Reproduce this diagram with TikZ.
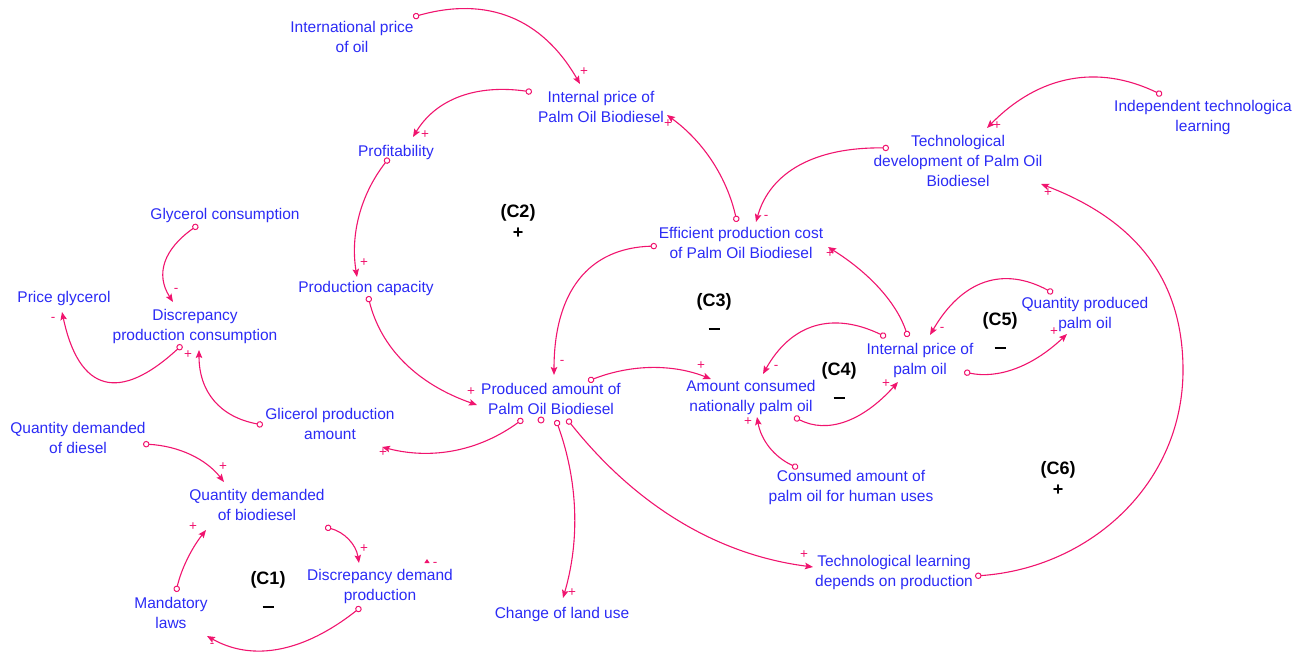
\documentclass[tikz,border=0pt]{standalone}
\usepackage{fontspec}
\setmainfont{Liberation Sans}
\definecolor{VenBlue}{HTML}{2B2BF5}
\definecolor{VenPink}{HTML}{F0146E}
\usetikzlibrary{arrows.meta}

\begin{document}
\begin{tikzpicture}[x=1pt, y=-1pt,
    var/.style={text=VenBlue, font=\fontsize{15.5}{20}\selectfont,
                align=center, inner sep=1pt},
    loop/.style={font=\fontsize{18}{21}\selectfont\bfseries,
                 align=center, inner sep=0pt},
    link/.style={VenPink, line width=1.1pt,
                 {Circle[open, length=6.5pt, line width=1pt]}-{Stealth[length=8pt, width=6.5pt, inset=1.5pt]}},
    pol/.style={text=VenPink, font=\fontsize{13.5}{13.5}\selectfont, inner sep=0pt}]
  \useasboundingbox (0,0) rectangle (1305,652);

  % Variables
  \node[var] (intoil)    at (352,37)  {International price\\of oil};
  \node[var] (ipbio)     at (601,107) {Internal price of\\Palm Oil Biodiesel};
  \node[var] (profit)    at (396,152) {Profitability};
  \node[var] (glyccons)  at (225,215) {Glycerol consumption};
  \node[var] (prodcap)   at (366,288) {Production capacity};
  \node[var] (priceglyc) at (64,298)  {Price glycerol};
  \node[var] (discpc)    at (195,326) {Discrepancy\\production consumption};
  \node[var] (glicprod)  at (330,424) {Glicerol production\\amount};
  \node[var] (prodbio)   at (551,399) {Produced amount of\\Palm Oil Biodiesel};
  \node[var] (qdiesel)   at (78,438)  {Quantity demanded\\of diesel};
  \node[var] (qbio)      at (257,505) {Quantity demanded\\of biodiesel};
  \node[var] (mandlaws)  at (171,613) {Mandatory\\laws};
  \node[var] (discdp)    at (380,586) {Discrepancy demand\\production};
  \node[var] (landuse)   at (562,614) {Change of land use};
  \node[var] (effcost)   at (741,243) {Efficient production cost\\of Palm Oil Biodiesel};
  \node[var] (techdev)   at (958,161) {Technological\\development of Palm Oil\\Biodiesel};
  \node[var] (indtech)   at (1203,117) {Independent technologica\\learning};
  \node[var] (qpalm)     at (1085,314) {Quantity produced\\palm oil};
  \node[var] (ippalm)    at (920,360) {Internal price of\\palm oil};
  \node[var] (amtcons)   at (751,397) {Amount consumed\\nationally palm oil};
  \node[var] (humuse)    at (851,487) {Consumed amount of\\palm oil for human uses};
  \node[var] (techlearn) at (894,572) {Technological learning\\depends on production};

  % Loop labels
  \node[loop] (c1) at (268,590)  {(C1)\\\rule[-2.5pt]{11pt}{2pt}};
  \node[loop] (c2) at (518,221)  {(C2)\\+};
  \node[loop] (c3) at (714,312)  {(C3)\\\rule[-2.5pt]{11pt}{2pt}};
  \node[loop] (c4) at (839,381)  {(C4)\\\rule[-2.5pt]{11pt}{2pt}};
  \node[loop] (c5) at (1000,331) {(C5)\\\rule[-2.5pt]{11pt}{2pt}};
  \node[loop] (c6) at (1058,478) {(C6)\\+};

  % Price and cost links
  \draw[link] ([shift={(61,-20)}]intoil.center) .. controls +(74,-21) and +(-38,-66) .. ([shift={(-21,-23)}]ipbio.center) node[pol, shift={(4,-12)}] {+};
  \draw[link] ([shift={(-69,-15)}]ipbio.center) .. controls +(-56,-8) and +(23,-38) .. ([shift={(17,-15)}]profit.center) node[pol, shift={(12,-2)}] {+};
  \draw[link] ([shift={(-4,-21)}]effcost.center) .. controls +(-10,-44) and +(37,27) .. ([shift={(66,8)}]ipbio.center) node[pol, shift={(1,9)}] {+};
  \draw[link] ([shift={(-69,-13)}]techdev.center) .. controls +(-74,-1) and +(14,-50) .. ([shift={(15,-21)}]effcost.center) node[pol, shift={(10,-5)}] {-};
  \draw[link] ([shift={(-41,-22)}]indtech.center) .. controls +(-64,-31) and +(52,-53) .. ([shift={(29,-33)}]techdev.center) node[pol, shift={(10,-2)}] {+};
  \coordinate (c6bend) at (1183,370);
  \draw[link] ([shift={(81,4)}]techlearn.center) .. controls +(115,-8) and +(0,114) .. (c6bend) .. controls +(0,-100) and +(84,32) .. ([shift={(83,23)}]techdev.center) node[pol, shift={(7,9)}] {+};

  % Production links
  \draw[link] ([shift={(-7,6)}]profit.center) .. controls +(-28,36) and +(-7,-43) .. ([shift={(-9,-11)}]prodcap.center) node[pol, shift={(7,-14)}] {+};
  \draw[link] ([shift={(2,8)}]prodcap.center) .. controls +(13,52) and +(-60,-21) .. ([shift={(-74,6)}]prodbio.center) node[pol, shift={(-6,-13)}] {+};
  \draw[link] ([shift={(-84,3)}]effcost.center) .. controls +(-68,2) and +(0,-84) .. ([shift={(3,-24)}]prodbio.center) node[pol, shift={(8,-13)}] {-};
  \draw[link] ([shift={(-12,-23)}]ippalm.center) .. controls +(-11,-33) and +(43,27) .. ([shift={(87,4)}]effcost.center) node[pol, shift={(2,7)}] {+};
  \draw[link] ([shift={(37,-18)}]prodbio.center) .. controls +(44,-17) and +(-38,-15) .. ([shift={(-40,-18)}]amtcons.center) node[pol, shift={(-10,-13)}] {+};
  \draw[link] ([shift={(-34,-23)}]ippalm.center) .. controls +(-54,-26) and +(28,-50) .. ([shift={(12,-23)}]amtcons.center) node[pol, shift={(13,-7)}] {-};
  \draw[link] ([shift={(43,20)}]amtcons.center) .. controls +(33,17) and +(-36,40) .. ([shift={(-22,22)}]ippalm.center) node[pol, shift={(-12,2)}] {+};
  \draw[link] ([shift={(-53,-19)}]humuse.center) .. controls +(-24,-11) and +(4,23) .. ([shift={(6,20)}]amtcons.center) node[pol, shift={(-9,5)}] {+};
  \draw[link] ([shift={(-32,-21)}]qpalm.center) .. controls +(-50,-27) and +(32,-55) .. ([shift={(10,-25)}]ippalm.center) node[pol, shift={(12,-6)}] {-};
  \draw[link] ([shift={(44,12)}]ippalm.center) .. controls +(34,7) and +(-35,33) .. ([shift={(-18,20)}]qpalm.center) node[pol, shift={(-13,-2)}] {+};
  \draw[link] ([shift={(-28,20)}]prodbio.center) .. controls +(-44,32) and +(50,13) .. ([shift={(52,23)}]glicprod.center) node[pol, shift={(1,6)}] {+};
  \draw[link] ([shift={(5,21)}]prodbio.center) .. controls +(22,61) and +(17,-58) .. ([shift={(1,-16)}]landuse.center) node[pol, shift={(9,-5)}] {+};
  \draw[link] ([shift={(16,20)}]prodbio.center) .. controls +(69,87) and +(-95,-12) .. ([shift={(-81,-5)}]techlearn.center) node[pol, shift={(-9,-12)}] {+};

  % Glycerol links
  \draw[link] ([shift={(-27,10)}]glyccons.center) .. controls +(-34,24) and +(-18,-28) .. ([shift={(-22,-24)}]discpc.center) node[pol, shift={(3,-12)}] {-};
  \draw[link] ([shift={(-13,19)}]discpc.center) .. controls +(-63,58) and +(17,80) .. ([shift={(-2,14)}]priceglyc.center) node[pol, shift={(-9,7)}] {-};
  \draw[link] ([shift={(-67,1)}]glicprod.center) .. controls +(-43,-8) and +(0,42) .. ([shift={(4,24)}]discpc.center) node[pol, shift={(-11,5)}] {+};

  % Demand links
  \draw[link] ([shift={(65,6)}]qdiesel.center) .. controls +(36,2) and +(-18,-23) .. ([shift={(-33,-23)}]qbio.center) node[pol, shift={(-1,-15)}] {+};
  \draw[link] ([shift={(68,22)}]qbio.center) .. controls +(19,5) and +(-3,-19) .. ([shift={(-21,-23)}]discdp.center) node[pol, shift={(5,-14)}] {+};
  \draw[link] ([shift={(-19,21)}]discdp.center) .. controls +(-57,45) and +(46,26) .. ([shift={(36,23)}]mandlaws.center) node[pol, shift={(5,9)}] {-};
  \draw[link] ([shift={(5,-21)}]mandlaws.center) .. controls +(5,-22) and +(-15,19) .. ([shift={(-51,25)}]qbio.center) node[pol, shift={(-13,-3)}] {+};

  % Hidden link: only its ends show
  \draw[VenPink, line width=1pt] ([shift={(-10,21)}]prodbio.center) circle[radius=3];
  \draw[VenPink, line width=1pt, -{Triangle[length=4pt, width=5pt]}] ([shift={(47,-24)}]discdp.center) -- ([shift={(47,-27)}]discdp.center) node[pol, shift={(8,5)}] {-};
\end{tikzpicture}
\end{document}
